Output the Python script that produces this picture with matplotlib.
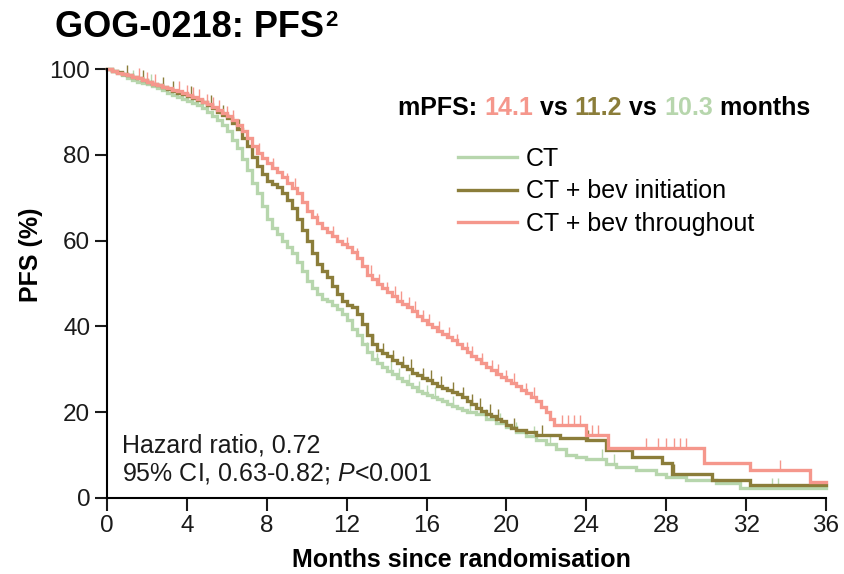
import numpy as np
import matplotlib
matplotlib.use("Agg")
import matplotlib.pyplot as plt
from matplotlib.path import Path

plt.rcParams["font.family"] = ["Liberation Sans", "DejaVu Sans"]
plt.rcParams["mathtext.fontset"] = "custom"
plt.rcParams["mathtext.rm"] = "Liberation Sans"
plt.rcParams["mathtext.it"] = "Liberation Sans:italic"

# KM step estimates (months, PFS %)
ct_t = [0, .25, .5, .75, 1, 1.25, 1.5, 1.75, 2, 2.25, 2.5, 2.75, 3, 3.25, 3.5, 3.75,
        4, 4.25, 4.5, 4.75, 5, 5.25, 5.5, 5.75, 6, 6.25, 6.5, 6.75, 7, 7.25, 7.5, 7.75,
        8, 8.25, 8.5, 8.75, 9, 9.25, 9.5, 9.75, 10, 10.25, 10.5, 10.75, 11, 11.25, 11.5,
        11.75, 12, 12.25, 12.5, 12.75, 13, 13.25, 13.5, 13.75, 14, 14.25, 14.5, 14.75,
        15, 15.25, 15.5, 15.75, 16, 16.25, 16.5, 16.75, 17, 17.25, 17.5, 17.75, 18, 18.5,
        19, 19.5, 20, 20.5, 21, 21.5, 22, 22.5, 23, 23.5, 24, 25, 25.5, 26.5, 27.5, 28,
        29, 30.5, 31.7, 36]
ct_s = [100, 99.5, 99, 98.5, 98, 97.5, 97, 96.8, 96.5, 96, 95.5, 95, 94.5, 94, 93.5, 93,
        92.5, 92, 91.5, 90.8, 90, 89, 88, 87, 85.5, 83.5, 81.5, 79, 76.5, 73.5, 71, 68,
        65, 63, 61.5, 60, 58.5, 57, 55, 53, 50.5, 49, 47.5, 46.5, 46, 45, 44, 43, 41.5,
        39.5, 38, 36, 34, 32.5, 31.5, 30.5, 29.5, 28.8, 28, 27.3, 26.5, 25.8, 25, 24.5,
        24, 23.5, 23, 22.5, 22, 21.5, 21, 20.5, 20, 19.5, 18.5, 17.5, 16.5, 15.5, 14.5,
        13.5, 12.5, 11.5, 10, 9.5, 9, 8, 7.2, 6.5, 5.5, 4.9, 4.2, 3.5, 2.3, 2.3]

init_t = [0, .25, .5, .75, 1, 1.25, 1.5, 1.75, 2, 2.25, 2.5, 2.75, 3, 3.25, 3.5, 3.75,
          4, 4.25, 4.5, 4.75, 5, 5.25, 5.5, 5.75, 6, 6.25, 6.5, 6.75, 7, 7.25, 7.5, 7.75,
          8, 8.25, 8.5, 8.75, 9, 9.25, 9.5, 9.75, 10, 10.25, 10.5, 10.75, 11, 11.25, 11.5,
          11.75, 12, 12.25, 12.5, 12.75, 13, 13.25, 13.5, 13.75, 14, 14.25, 14.5, 14.75,
          15, 15.25, 15.5, 15.75, 16, 16.25, 16.5, 16.75, 17, 17.25, 17.5, 17.75, 18,
          18.25, 18.5, 18.75, 19, 19.25, 19.5, 19.75, 20, 20.25, 20.5, 21, 21.5, 22.7, 24,
          25, 26.3, 27.8, 28.3, 30.3, 32.2, 36]
init_s = [100, 99.6, 99.2, 98.8, 98.5, 98.2, 97.8, 97.4, 97, 96.6, 96.2, 95.8, 95.3,
          94.9, 94.5, 94.2, 93.8, 93.3, 92.8, 92.2, 91.5, 90.8, 90, 89.3, 88.5, 87.3, 86,
          84, 82, 79.5, 77.5, 75.5, 74, 73.2, 72.5, 71, 69.5, 67.5, 65, 62.5, 60, 57, 54.5,
          53, 51.5, 49.5, 47.5, 46, 45, 44.5, 43, 40.5, 38, 36, 34.5, 33.7, 33, 32.2, 31.5,
          30.8, 30, 29.2, 28.6, 28, 27.4, 26.8, 26.2, 25.7, 25.2, 24.8, 24.3, 23.5, 22.5,
          21.8, 21, 20.3, 19.6, 19, 18.5, 18, 17, 16.4, 15.9, 15.3, 14.7, 14, 13.5, 11.2,
          9.6, 8.2, 5.6, 4.2, 3, 3]

thr_t = [0, .25, .5, .75, 1, 1.25, 1.5, 1.75, 2, 2.25, 2.5, 2.75, 3, 3.25, 3.5, 3.75,
         4, 4.25, 4.5, 4.75, 5, 5.25, 5.5, 5.75, 6, 6.25, 6.5, 6.75, 7, 7.25, 7.5, 7.75,
         8, 8.25, 8.5, 8.75, 9, 9.25, 9.5, 9.75, 10, 10.25, 10.5, 10.75, 11, 11.25, 11.5,
         11.75, 12, 12.25, 12.5, 12.75, 13, 13.25, 13.5, 13.75, 14, 14.25, 14.5, 14.75,
         15, 15.25, 15.5, 15.75, 16, 16.25, 16.5, 16.75, 17, 17.25, 17.5, 17.75, 18,
         18.25, 18.5, 18.75, 19, 19.25, 19.5, 19.75, 20, 20.25, 20.5, 20.75, 21, 21.25,
         21.5, 21.75, 22, 22.2, 22.4, 24.0, 25.1, 29.9, 32.2, 35.2, 36]
thr_s = [100, 99.5, 99, 98.8, 98.5, 98.2, 97.8, 97.4, 97, 96.6, 96.3, 95.9, 95.5, 95.2,
         94.8, 94.4, 94, 93.5, 93, 92.4, 91.8, 91.1, 90.4, 89.7, 89, 88, 87, 85.5, 84, 82,
         80.5, 79.3, 78, 77, 76, 74.8, 73.5, 72.2, 71, 69, 67, 65.5, 64, 63, 62, 61, 60,
         59.2, 58.5, 57.3, 56, 54, 52, 51, 50, 49, 48, 47, 46, 45.2, 44.5, 43.5, 42.5,
         41.5, 40.5, 39.8, 39, 38.2, 37.5, 36.8, 36, 35, 34, 33.2, 32.5, 31.5, 30.5, 29.8,
         29, 28.2, 27.5, 26.8, 26, 25.2, 24.5, 23.5, 22.5, 21.2, 20, 18.5, 17, 14.7, 11.6,
         8.1, 6.5, 3.7, 3.7]

# censoring times (approximate)
ct_cens = [1.3, 2.2, 13.0, 13.5, 14.2, 14.6, 15.1, 15.6, 16.0, 16.4, 17.3, 18.2, 19.0,
           19.7, 20.5, 21.4, 22.2, 24.8, 25.4, 33.3, 33.6]
init_cens = [1.0, 1.8, 2.8, 3.3, 4.2, 5.2, 5.8, 6.6, 13.3, 13.8, 14.3, 14.8, 15.2, 15.8,
             16.2, 16.7, 17.3, 17.8, 18.3, 18.7, 19.2, 19.6, 20.4, 21.8, 24.1, 28.4]
thr_cens = [1.6, 2.0, 2.4, 3.6, 4.0, 4.3, 4.6, 5.0, 5.3, 5.6, 6.0, 6.3, 7.6, 8.3, 9.0,
            9.4, 10.0, 10.5, 11.3, 12.0, 12.5, 13.2, 13.6, 14.0, 14.4, 14.7, 15.1, 15.4,
            15.8, 16.1, 16.6, 17.1, 17.5, 18.0, 18.3, 18.8, 19.3, 19.6, 20.0, 20.4, 21.0,
            21.4, 22.8, 23.1, 23.4, 23.7, 24.3, 24.6, 27.0, 27.6, 28.0, 28.4, 28.7, 29.0,
            33.7]

labels = ["CT", "CT + bev initiation", "CT + bev throughout"]
colors = ["#b7d6ad", "#8b7d3a", "#f5978c"]
arms = [(ct_t, ct_s, ct_cens), (init_t, init_s, init_cens), (thr_t, thr_s, thr_cens)]

tick_up = Path([(0, 0), (0, 1)])

fig = plt.figure(figsize=(8.44, 5.74), dpi=100)
ax = fig.add_axes([107 / 844, 1 - 498 / 574, 719 / 844, 429 / 574])

for (t, s, cens), lab, col in zip(arms, labels, colors):
    t = np.array(t)
    s = np.array(s)
    ax.plot(t, s, drawstyle="steps-post", color=col, lw=2.4, label=lab,
            clip_on=False, solid_joinstyle="miter")
    idx = np.searchsorted(t, cens, side="right") - 1
    ax.plot(cens, s[idx], linestyle="none", marker=tick_up, markersize=14,
            markeredgewidth=1.0, color=col, clip_on=False)

ax.set_xlim(0, 36)
ax.set_ylim(0, 100)
ax.set_xticks(np.arange(0, 37, 4))
ax.set_yticks(np.arange(0, 101, 20))
for side in ["top", "right"]:
    ax.spines[side].set_visible(False)
for side in ["left", "bottom"]:
    ax.spines[side].set_linewidth(1.5)
ax.tick_params(direction="out", length=9, width=1.5, labelsize=17.5, pad=3,
               colors="#1a1a1a")

fig.text(461 / 844, 1 - 567 / 574, "Months since randomisation", fontsize=18,
         fontweight="bold", ha="center", va="baseline")
fig.text(31 / 844, 1 - 255 / 574, "PFS (%)", fontsize=18, fontweight="bold",
         rotation=90, ha="center", va="center")

title = fig.text(55 / 844, 1 - 37 / 574, "GOG-0218: PFS", fontsize=26,
                 fontweight="bold", va="baseline")
ax.annotate("2", xy=(1, 1), xycoords=title, xytext=(1, 0),
            textcoords="offset points", fontsize=16, fontweight="bold",
            ha="left", va="top")

pieces = [("mPFS: ", "black"), ("14.1", colors[2]), (" vs ", "black"),
          ("11.2", colors[1]), (" vs ", "black"), ("10.3", colors[0]),
          (" months", "black")]
prev = fig.text(398 / 844, 1 - 115 / 574, pieces[0][0], fontsize=18,
                fontweight="bold", color=pieces[0][1], va="baseline")
for txt, col in pieces[1:]:
    prev = ax.annotate(txt, xy=(1, 0), xycoords=prev, fontsize=18,
                       fontweight="bold", color=col, ha="left", va="bottom")

ax.legend(loc="upper left", bbox_to_anchor=(458 / 844, 1 - 147 / 574),
          bbox_transform=fig.transFigure, frameon=False, fontsize=18,
          handlelength=2.35, handletextpad=0.35, labelspacing=0.33,
          borderpad=0, borderaxespad=0)

fig.text(122 / 844, 1 - 452 / 574, "Hazard ratio, 0.72", fontsize=18,
         va="baseline", color="#1a1a1a")
fig.text(122 / 844, 1 - 481 / 574, "95% CI, 0.63-0.82; $\\mathit{P}$<0.001",
         fontsize=18, va="baseline", color="#1a1a1a")

fig.savefig("out.png", dpi=100)
